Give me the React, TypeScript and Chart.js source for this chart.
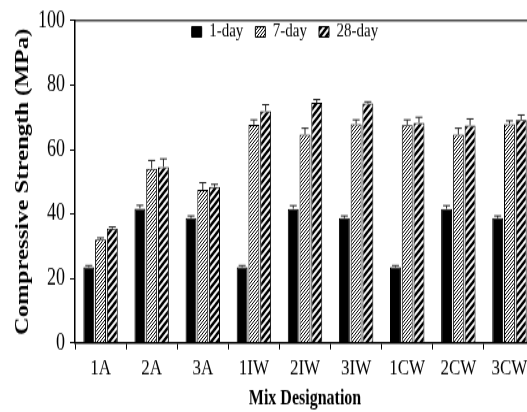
import React, { useEffect, useRef } from "react";
import { Chart, registerables } from "chart.js";

Chart.register(...registerables);

const categories = ["1A", "2A", "3A", "1IW", "2IW", "3IW", "1CW", "2CW", "3CW"];
const seriesNames = ["1-day", "7-day", "28-day"];
const day1 = [23.5, 41.7, 38.7, 23.5, 41.6, 38.7, 23.5, 41.6, 38.7];
const day7 = [32.1, 54.1, 47.5, 67.7, 64.6, 67.9, 67.6, 64.6, 67.9];
const day28 = [35.5, 54.6, 48.4, 71.9, 74.5, 74.3, 68.3, 67.5, 69.2];
const err1 = [0.5, 1, 0.7, 0.5, 1, 0.7, 0.5, 1, 0.7];
const err7 = [0.5, 2.5, 2.2, 1.5, 2, 1.3, 1.6, 2, 1];
const err28 = [0.5, 2.5, 0.8, 2, 1, 0.5, 1.7, 2, 1.5];
const yTicks = [0, 20, 40, 60, 80, 100];

const FONT = "'Liberation Serif', 'Times New Roman', serif";
const W = 545;
const H = 317;
const SY = 1.3;

function stripes(size: number, lw: number): CanvasPattern | string {
  const c = document.createElement("canvas");
  c.width = size;
  c.height = size;
  const g = c.getContext("2d");
  if (!g) return "#888";
  g.fillStyle = "#fff";
  g.fillRect(0, 0, size, size);
  g.strokeStyle = "#000";
  g.lineWidth = lw;
  g.beginPath();
  for (const k of [0, size, 2 * size]) {
    g.moveTo(k + size, -size);
    g.lineTo(k - 2 * size, 2 * size);
  }
  g.stroke();
  const p = g.createPattern(c, "repeat");
  return p || "#888";
}

const errorBars = {
  id: "errorBars",
  afterDatasetsDraw(chart: any) {
    const errs = [err1, err7, err28];
    const ctx = chart.ctx;
    const ys = chart.scales.y;
    ctx.save();
    ctx.strokeStyle = "#222";
    ctx.lineWidth = 1;
    chart.data.datasets.forEach((ds: any, i: number) => {
      const meta = chart.getDatasetMeta(i);
      meta.data.forEach((el: any, j: number) => {
        const v = ds.data[j];
        const top = ys.getPixelForValue(v + errs[i][j]);
        const x = el.x;
        ctx.beginPath();
        ctx.moveTo(x, el.y);
        ctx.lineTo(x, top);
        ctx.moveTo(x - 3.5, top);
        ctx.lineTo(x + 3.5, top);
        ctx.stroke();
      });
    });
    ctx.restore();
  },
};

// Keep the legend inside the plot frame (it takes no layout space)
const legendInside = {
  id: "legendInside",
  beforeLayout(chart: any) {
    const lg = chart.legend;
    if (lg && !lg.__patched) {
      const orig = lg.fit.bind(lg);
      lg.fit = function () {
        orig();
        this.height = 0;
      };
      lg.__patched = true;
    }
  },
  afterLayout(chart: any) {
    const lg = chart.legend;
    if (lg) {
      lg.left = 191.7 - 12;
      lg.right = W;
      lg.top = 17 - 12;
      lg.bottom = lg.top + 30;
    }
  },
};

export default function App() {
  const ref = useRef<HTMLCanvasElement | null>(null);

  useEffect(() => {
    if (!ref.current) return;
    const p7 = stripes(3, 1);
    const p28 = stripes(6, 2.3);
    const chart = new Chart(ref.current, {
      type: "bar",
      data: {
        labels: categories,
        datasets: [
          {
            label: seriesNames[0],
            data: day1,
            backgroundColor: "#000",
            borderColor: "#000",
            borderWidth: 1,
          },
          {
            label: seriesNames[1],
            data: day7,
            backgroundColor: p7 as any,
            borderColor: "#000",
            borderWidth: 1,
          },
          {
            label: seriesNames[2],
            data: day28,
            backgroundColor: p28 as any,
            borderColor: "#000",
            borderWidth: 1,
          },
        ],
      },
      options: {
        animation: false,
        responsive: false,
        devicePixelRatio: 1,
        categoryPercentage: 0.69,
        barPercentage: 0.93,
        layout: { padding: { top: 11.5, right: 10, left: 0, bottom: 0 } },
        plugins: {
          tooltip: { enabled: false },
          legend: {
            position: "top",
            align: "start",
            labels: {
              boxWidth: 10,
              boxHeight: 8,
              padding: 12,
              color: "#000",
              font: { family: FONT, size: 15 },
            },
          },
        },
        scales: {
          x: {
            type: "category",
            position: "bottom",
            grid: {
              drawOnChartArea: false,
              tickLength: 5,
              color: "#000",
              lineWidth: 1,
            },
            border: { color: "#000", width: 1.5 },
            ticks: {
              color: "#000",
              padding: 5,
              font: { family: FONT, size: 17 },
            },
            title: {
              display: true,
              text: "Mix Designation",
              color: "#000",
              font: { family: FONT, size: 16, weight: "bold" },
              padding: { top: 0, bottom: 0.5 },
            },
            afterFit: (s: any) => {
              s.height = H - 263.8;
            },
          },
          x2: {
            type: "category",
            position: "top",
            labels: categories,
            grid: { drawOnChartArea: false, drawTicks: false },
            border: { color: "#444", width: 1.5 },
            ticks: { display: false },
            afterFit: (s: any) => {
              s.height = 0;
            },
          },
          y: {
            min: yTicks[0],
            max: yTicks[yTicks.length - 1],
            afterBuildTicks: (s: any) => {
              s.ticks = yTicks.map((v) => ({ value: v }));
            },
            grid: {
              drawOnChartArea: false,
              tickLength: 5,
              color: "#000",
              lineWidth: 1,
            },
            border: { color: "#000", width: 1.5 },
            ticks: {
              color: "#000",
              padding: 5,
              font: { family: FONT, size: 18 },
            },
            title: {
              display: true,
              text: "Compressive Strength (MPa)",
              color: "#000",
              font: { family: FONT, size: 19, weight: "bold" },
              padding: { top: 11.6, bottom: 0 },
            },
            afterFit: (s: any) => {
              s.width = 75;
            },
          },
        },
      },
      plugins: [errorBars, legendInside],
    });
    return () => chart.destroy();
  }, []);

  return (
    <div
      style={{
        position: "fixed",
        left: 0,
        top: 0,
        width: 527,
        height: 412,
        overflow: "hidden",
        background: "#fff",
      }}
    >
      <div
        style={{
          width: W,
          height: H,
          transform: `scaleY(${SY})`,
          transformOrigin: "0 0",
        }}
      >
        <canvas ref={ref} width={W} height={H} />
      </div>
    </div>
  );
}
